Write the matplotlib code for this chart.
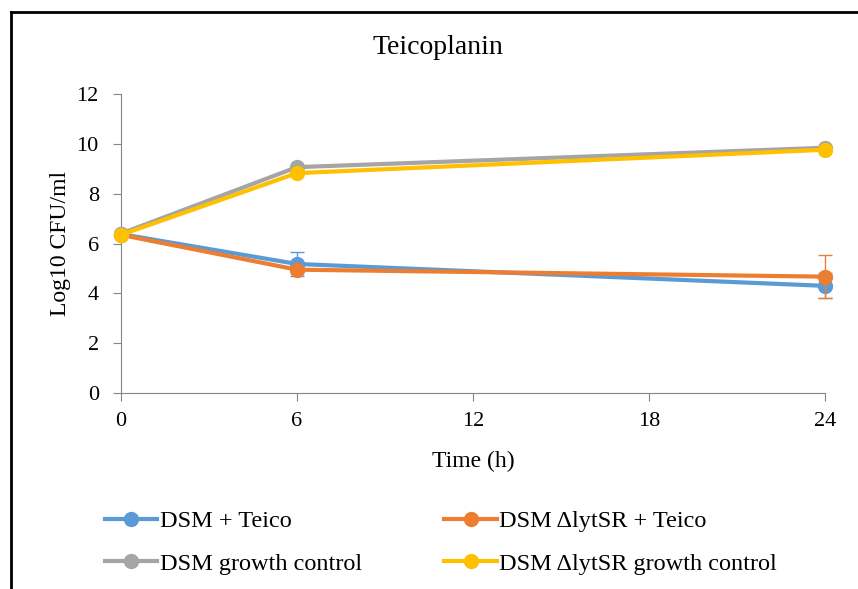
import matplotlib.pyplot as plt
from matplotlib.lines import Line2D

plt.rcParams['font.family'] = ['Liberation Serif', 'DejaVu Serif']

time = [0, 6, 24]
dsm_teico = [6.38, 5.18, 4.30]
dsm_teico_err = [0.05, 0.48, 0.5]
lyt_teico = [6.35, 4.95, 4.67]
lyt_teico_err = [0.05, 0.1, 0.87]
dsm_growth = [6.40, 9.07, 9.85]
lyt_growth = [6.35, 8.83, 9.77]

labels = ["DSM + Teico", "DSM \u0394lytSR + Teico",
          "DSM growth control", "DSM \u0394lytSR growth control"]
colors = ["#5B9BD5", "#ED7D31", "#A5A5A5", "#FFC000"]

fig = plt.figure(figsize=(8.58, 5.89), dpi=100)
ax = fig.add_axes([0.141, 0.333, 0.8205, 0.507])

series = [(dsm_teico, dsm_teico_err), (lyt_teico, lyt_teico_err),
          (dsm_growth, None), (lyt_growth, None)]
handles = []
for i, (vals, err) in enumerate(series):
    if err is not None:
        ax.errorbar(time, vals, yerr=err, fmt='none', ecolor=colors[i],
                    elinewidth=1, capsize=5, capthick=1, zorder=2 + i,
                    clip_on=False)
    h, = ax.plot(time, vals, color=colors[i], lw=3, marker='o', ms=10,
                 label=labels[i], zorder=3 + i, clip_on=False)
    handles.append(h)

ax.set_xlim(0, 24)
ax.set_ylim(0, 12)
ax.set_xticks([0, 6, 12, 18, 24])
ax.set_yticks(range(0, 13, 2))
for s in ['top', 'right']:
    ax.spines[s].set_visible(False)
for s in ['left', 'bottom']:
    ax.spines[s].set_color('#868686')
ax.tick_params(axis='both', color='#868686', length=6, labelsize=16,
               labelcolor='black')
ax.tick_params(axis='x', pad=8)
ax.tick_params(axis='y', pad=10)
fig.text(438 / 858, 1 - 47 / 589, "Teicoplanin", fontsize=20,
         ha='center', va='center')
ax.set_xlabel("Time (h)", fontsize=17, labelpad=14)
ax.set_ylabel("Log10 CFU/ml", fontsize=17, labelpad=4)

# column-major legend order -> rows: blue/orange, gray/yellow
order = [0, 2, 1, 3]
fig.legend([handles[i] for i in order], [labels[i] for i in order],
           loc='upper left', bbox_to_anchor=(105 / 858, 1 - 510 / 589),
           ncol=2, frameon=False, fontsize=17.5, borderpad=0,
           borderaxespad=0, handlelength=2.15, handletextpad=0.1,
           columnspacing=3.4, labelspacing=0.85)

# outer chart frame (cropped at right and bottom)
fig.add_artist(Line2D([11 / 858, 11 / 858], [0, 1 - 12 / 589],
                      transform=fig.transFigure, color='black', lw=2))
fig.add_artist(Line2D([11 / 858, 1], [1 - 12 / 589, 1 - 12 / 589],
                      transform=fig.transFigure, color='black', lw=2))

fig.savefig("out.png", dpi=100)
